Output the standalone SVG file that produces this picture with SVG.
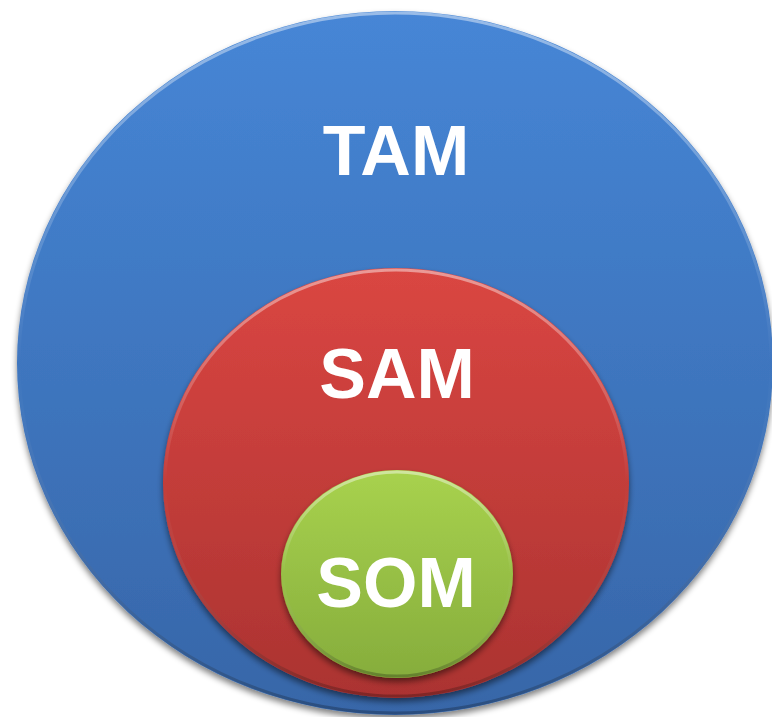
<svg xmlns="http://www.w3.org/2000/svg" width="772" height="717" viewBox="0 0 772 717">
  <defs>
    <linearGradient id="gBlue" x1="0" y1="0" x2="0" y2="1">
      <stop offset="0" stop-color="#4686d6"/>
      <stop offset="1" stop-color="#3766a8"/>
    </linearGradient>
    <linearGradient id="gRed" x1="0" y1="0" x2="0" y2="1">
      <stop offset="0" stop-color="#da4642"/>
      <stop offset="1" stop-color="#ab3331"/>
    </linearGradient>
    <linearGradient id="gGreen" x1="0" y1="0" x2="0" y2="1">
      <stop offset="0" stop-color="#a8d24e"/>
      <stop offset="1" stop-color="#86ad3c"/>
    </linearGradient>
    <linearGradient id="gRim" x1="0" y1="0" x2="0" y2="1">
      <stop offset="0" stop-color="#ffffff" stop-opacity="0.45"/>
      <stop offset="0.5" stop-color="#ffffff" stop-opacity="0"/>
      <stop offset="1" stop-color="#000000" stop-opacity="0.25"/>
    </linearGradient>
    <filter id="shadow" x="-10%" y="-10%" width="120%" height="125%">
      <feGaussianBlur in="SourceAlpha" stdDeviation="3"/>
      <feOffset dx="0" dy="4" result="b"/>
      <feComponentTransfer><feFuncA type="linear" slope="0.5"/></feComponentTransfer>
      <feMerge><feMergeNode/><feMergeNode in="SourceGraphic"/></feMerge>
    </filter>
  </defs>
  <style>
    .lbl { font-family: "Liberation Sans", Arial, sans-serif; font-weight: bold; font-size: 70px; fill: #ffffff; text-anchor: middle; }
    .rim { fill: none; stroke: url(#gRim); stroke-width: 3; }
  </style>
  <g id="tam">
    <ellipse cx="395" cy="363" rx="378" ry="352" fill="url(#gBlue)" filter="url(#shadow)"/>
    <ellipse class="rim" cx="395" cy="363" rx="376" ry="350"/>
    <text class="lbl" x="396" y="175">TAM</text>
  </g>
  <g id="sam">
    <ellipse cx="396" cy="483" rx="233" ry="215" fill="url(#gRed)" filter="url(#shadow)"/>
    <ellipse class="rim" cx="396" cy="483" rx="231" ry="213"/>
    <text class="lbl" x="397" y="398">SAM</text>
  </g>
  <g id="som">
    <ellipse cx="397" cy="574" rx="116" ry="104" fill="url(#gGreen)" filter="url(#shadow)"/>
    <ellipse class="rim" cx="397" cy="574" rx="114" ry="102"/>
    <text class="lbl" x="396" y="607">SOM</text>
  </g>
</svg>
